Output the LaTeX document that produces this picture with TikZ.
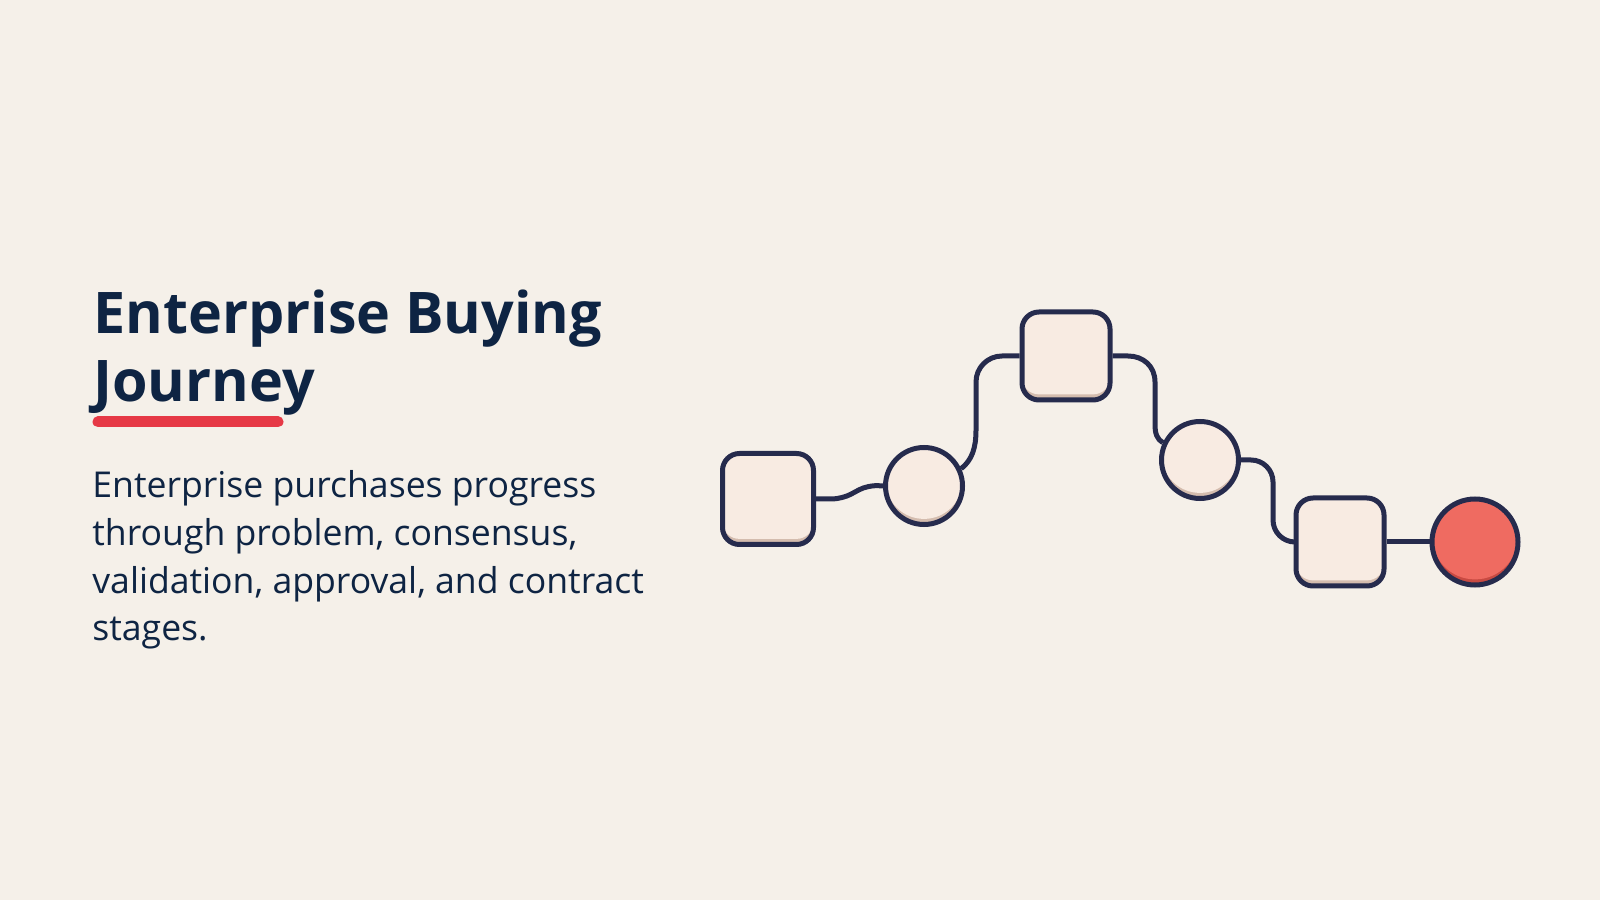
\documentclass[tikz,border=0pt]{standalone}
\usepackage{fontspec}
\setmainfont{Open Sans}
\usetikzlibrary{positioning,calc}
\definecolor{paper}{HTML}{F5F0E9}
\definecolor{ink}{HTML}{0E2443}
\definecolor{wire}{HTML}{262B4D}
\definecolor{cream}{HTML}{F8EBE2}
\definecolor{creamdark}{HTML}{D4BCAE}
\definecolor{coral}{HTML}{EF6B61}
\definecolor{coraldark}{HTML}{C84A42}
\definecolor{accent}{HTML}{E63946}
\tikzset{
  box/.style={rectangle, rounded corners=8.5pt, minimum size=44pt, inner sep=0pt, draw=wire, line width=2.5pt, fill=creamdark,
    path picture={\fill[cream, rounded corners=8.5pt] ([yshift=2.8pt]path picture bounding box.south west) rectangle ([yshift=2.8pt]path picture bounding box.north east);}},
  stop/.style={circle, minimum size=38.5pt, inner sep=0pt, draw=wire, line width=2.5pt, fill=creamdark,
    path picture={\fill[cream] ([yshift=2.8pt]path picture bounding box.center) circle[radius=19.25pt];}},
  goal/.style={circle, minimum size=43pt, inner sep=0pt, draw=wire, line width=2.5pt, fill=coraldark,
    path picture={\fill[coral] ([yshift=2.8pt]path picture bounding box.center) circle[radius=21.5pt];}},
  link/.style={draw=wire, line width=2.5pt},
  title/.style={inner sep=0pt, align=left, text=ink, font=\fontsize{28.7}{34}\selectfont\bfseries},
  blurb/.style={inner sep=0pt, align=left, text=ink, font=\fontsize{17.8}{23.9}\selectfont},
  bar/.style={draw=accent, line width=5.5pt, line cap=round}
}
\begin{document}
\begin{tikzpicture}[x=0.5pt,y=0.5pt]
	\useasboundingbox[fill=paper] (0,0) rectangle (1600,900);
	\node[title, anchor=north west] (head) at (93,611) {Enterprise Buying\\Journey};
	\draw[bar] (98,478) -- (278,478);
	\node[blurb, anchor=north west] (text) at (92,430) {Enterprise purchases progress\\through problem, consensus,\\validation, approval, and contract\\stages.};
	%
	\node[box, minimum size=45.5pt] (problem) at (768,401) {};
	\node[stop] (consensus) at (924,414) {};
	\node[box] (validation) at (1066,544) {};
	\node[stop] (approval) at (1200,440) {};
	\node[box] (contract) at (1340,358) {};
	\node[goal] (close) at (1475,358) {};
	%
	\draw[link, rounded corners=5pt] (problem.east) -- (842,401) -- (868,415) -- (consensus.west);
	\draw[link] (consensus.25) .. controls (972,440) and (976,452) .. (976,470) [rounded corners=13pt] -- (976,544) -- (validation.west);
	\draw[link] (validation.east) -- (1128,544) .. controls (1143,544) and (1155,534) .. (1155,518) -- (1155,476) .. controls (1155,466) and (1157,461) .. (approval.155);
	\draw[link, rounded corners=11pt] (approval.east) -- (1273,440) -- (1273,358) -- (contract.west);
	\draw[link] (contract.east) -- (close.west);
\end{tikzpicture}
\end{document}
